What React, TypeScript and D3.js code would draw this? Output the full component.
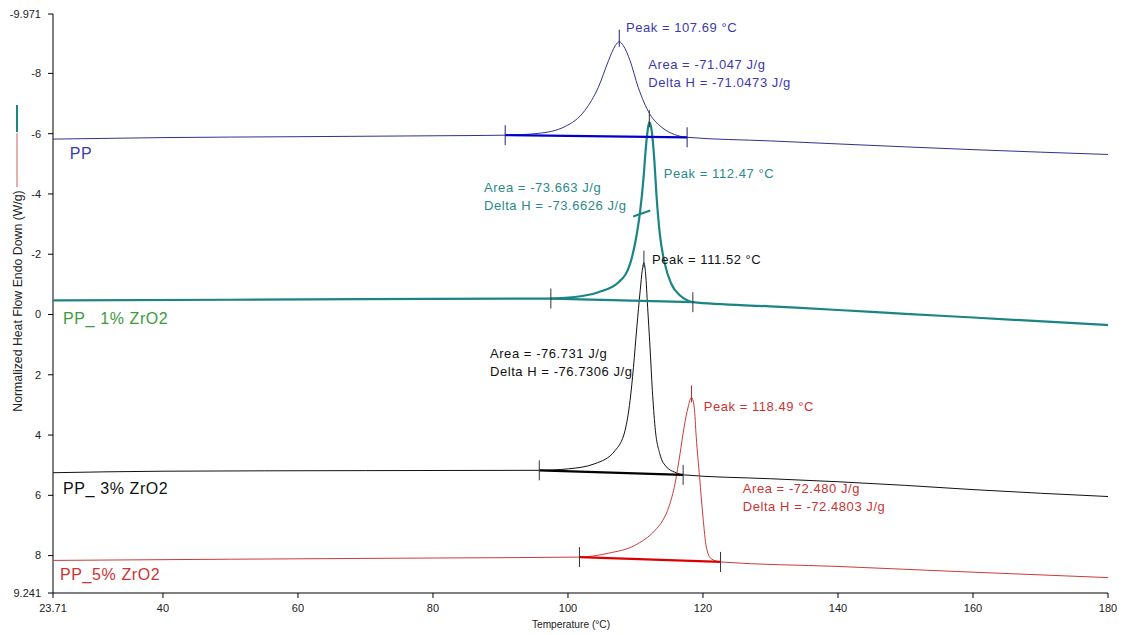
import React, { useEffect, useRef } from "react";
import * as d3 from "d3";

// DSC cooling curves (temperature °C, heat flow W/g)
const ppTemps = [23.71, 40, 60, 80, 90.7, 95.6, 99.6, 102.5, 104.5, 106.0, 107.0, 107.6, 108.2, 109.2, 110.4, 112.1, 113.9, 115.8, 117.65, 130, 140, 160, 180];
const ppValues = [-5.82, -5.87, -5.9, -5.93, -5.95, -6.01, -6.24, -6.77, -7.54, -8.42, -8.92, -9.05, -8.92, -8.42, -7.54, -6.66, -6.21, -5.97, -5.88, -5.76, -5.66, -5.47, -5.31];

const pp1Temps = [23.71, 50, 80, 97.46, 100.6, 104.5, 107.5, 109.2, 110.2, 110.7, 111.2, 111.5, 111.8, 112.05, 112.4, 112.8, 113.1, 113.6, 114.35, 115.3, 116.6, 117.8, 118.5, 130, 140, 150, 160, 180];
const pp1Values = [-0.47, -0.49, -0.52, -0.53, -0.57, -0.74, -1.07, -1.68, -2.68, -3.45, -4.55, -5.44, -6.1, -6.38, -6.1, -5.1, -4.0, -2.68, -1.68, -1.02, -0.63, -0.46, -0.41, -0.27, -0.15, -0.02, 0.1, 0.35];

const pp3Temps = [23.71, 40, 70, 95.75, 100.1, 104.0, 107.0, 108.45, 109.2, 109.7, 110.2, 110.7, 111.0, 111.25, 111.5, 111.8, 112.15, 112.5, 112.9, 113.6, 114.6, 115.8, 117.06, 130, 140, 150, 160, 180];
const pp3Values = [5.25, 5.2, 5.18, 5.17, 5.12, 4.95, 4.51, 3.85, 2.85, 1.75, 0.42, -0.8, -1.46, -1.72, -1.35, -0.24, 1.08, 2.52, 3.74, 4.62, 5.06, 5.23, 5.32, 5.45, 5.55, 5.67, 5.81, 6.04];

const pp5Temps = [23.71, 50, 80, 101.7, 106.0, 109.9, 112.9, 114.0, 115.0, 115.85, 116.6, 117.2, 117.8, 118.3, 118.7, 119.0, 119.5, 120.0, 120.5, 121.2, 122.6, 140, 160, 180];
const pp5Values = [8.16, 8.12, 8.08, 8.05, 7.92, 7.66, 7.16, 6.85, 6.35, 5.62, 4.62, 3.74, 3.07, 2.75, 3.07, 4.07, 5.4, 6.72, 7.72, 8.1, 8.21, 8.36, 8.55, 8.73];

// integration limits and their baseline values
const limitTemps = [[90.7, 117.65], [97.46, 118.5], [95.75, 117.06], [101.7, 122.6]];
const limitValues = [[-5.95, -5.88], [-0.53, -0.41], [5.17, 5.32], [8.05, 8.21]];

// peak marker positions
const peakTemps = [107.6, 112.05, 111.25, 118.3];
const peakValues = [-9.05, -6.38, -1.72, 2.75];

const seriesNames = ["PP", "PP_ 1% ZrO2", "PP_ 3% ZrO2", "PP_5% ZrO2"];
const nameAnchors = [[26.2, -5.35], [25.2, 0.12], [25.2, 5.76], [24.75, 8.64]];

const peakLabels = ["Peak = 107.69 °C", "Peak = 112.47 °C", "Peak = 111.52 °C", "Peak = 118.49 °C"];
const peakAnchors = [[108.6, -9.54], [114.2, -4.69], [112.45, -1.84], [120.1, 3.04]];

const areaLabels = ["Area = -71.047 J/g", "Area = -73.663 J/g", "Area = -76.731 J/g", "Area = -72.480 J/g"];
const deltaLabels = ["Delta H = -71.0473 J/g", "Delta H = -73.6626 J/g", "Delta H = -76.7306 J/g", "Delta H = -72.4803 J/g"];
const areaAnchors = [[111.9, -8.31], [87.56, -4.23], [88.45, 1.28], [125.9, 5.76]];

const xTicks = [23.71, 40, 60, 80, 100, 120, 140, 160, 180];
const xTickLabels = ["23.71", "40", "60", "80", "100", "120", "140", "160", "180"];
const yTicks = [-9.971, -8, -6, -4, -2, 0, 2, 4, 6, 8, 9.241];
const yTickLabels = ["-9.971", "-8", "-6", "-4", "-2", "0", "2", "4", "6", "8", "9.241"];

const lineColors = ["#30308f", "#1b8484", "#111111", "#cc3a3a"];
const baseColors = ["#0000cc", "#1b8484", "#000000", "#dd0000"];
const textColors = ["#3a3ab0", "#2a8a8a", "#111111", "#cc3333"];
const nameColors = ["#3a3ab0", "#3d9a3d", "#111111", "#cc3333"];
const lineWidths = [1, 2.2, 1, 1];

const App = () => {
  const chart = useRef<SVGSVGElement>(null);

  useEffect(() => {
    const width = 1122;
    const height = 635;
    const font = "Liberation Sans, Arial, sans-serif";

    const svg = d3.select(chart.current)
      .attr("width", width)
      .attr("height", height)
      .style("background-color", "white");
    svg.selectAll("*").remove();

    const x = d3.scaleLinear().domain([23.71, 180]).range([53, 1108]);
    const y = d3.scaleLinear().domain([-9.971, 9.241]).range([14, 593]);

    // axes
    const g = svg.append("g");
    g.append("line").attr("x1", x(23.71)).attr("x2", x(23.71)).attr("y1", y(-9.971)).attr("y2", y(9.241)).attr("stroke", "#000");
    g.append("line").attr("x1", x(23.71)).attr("x2", x(180)).attr("y1", y(9.241)).attr("y2", y(9.241)).attr("stroke", "#000");

    yTicks.forEach((t, i) => {
      g.append("line").attr("x1", x(23.71) - 5).attr("x2", x(23.71)).attr("y1", y(t)).attr("y2", y(t)).attr("stroke", "#000");
      g.append("text").attr("x", x(23.71) - 12).attr("y", y(t)).attr("dy", "0.35em")
        .attr("text-anchor", "end").attr("font-family", font).attr("font-size", 11).attr("fill", "#222")
        .text(yTickLabels[i]);
    });
    xTicks.forEach((t, i) => {
      g.append("line").attr("x1", x(t)).attr("x2", x(t)).attr("y1", y(9.241)).attr("y2", y(9.241) + 5).attr("stroke", "#000");
      g.append("text").attr("x", x(t)).attr("y", y(9.241) + 15).attr("dy", "0.35em")
        .attr("text-anchor", "middle").attr("font-family", font).attr("font-size", 11).attr("fill", "#222")
        .text(xTickLabels[i]);
    });

    g.append("text").attr("x", 571).attr("y", 624).attr("dy", "0.35em").attr("text-anchor", "middle")
      .attr("font-family", font).attr("font-size", 10.2).attr("fill", "#222").text("Temperature (°C)");

    g.append("text").attr("transform", "translate(18,301) rotate(-90)").attr("dy", "0.35em")
      .attr("text-anchor", "middle").attr("font-family", font).attr("font-size", 12.3).attr("fill", "#222")
      .text("Normalized Heat Flow Endo Down (W/g)");
    // colour keys beside the y label
    g.append("line").attr("x1", 17).attr("x2", 17).attr("y1", 105).attr("y2", 132).attr("stroke", lineColors[1]).attr("stroke-width", 2);
    g.append("line").attr("x1", 17).attr("x2", 17).attr("y1", 133).attr("y2", 187).attr("stroke", "#c86060").attr("stroke-width", 1);

    const line = d3.line<[number, number]>()
      .x(d => x(d[0]))
      .y(d => y(d[1]))
      .curve(d3.curveMonotoneX);

    const series = [
      d3.zip(ppTemps, ppValues),
      d3.zip(pp1Temps, pp1Values),
      d3.zip(pp3Temps, pp3Values),
      d3.zip(pp5Temps, pp5Values),
    ] as [number, number][][];

    series.forEach((s, i) => {
      svg.append("path")
        .datum(s)
        .attr("fill", "none")
        .attr("stroke", lineColors[i])
        .attr("stroke-width", lineWidths[i])
        .attr("stroke-linejoin", "round")
        .attr("d", line);
    });

    const label = (sel: any, size: number, spacing: number, color: string) =>
      sel.attr("dy", "0.35em").attr("font-family", font).attr("font-size", size)
        .attr("letter-spacing", spacing).attr("fill", color);

    series.forEach((s, i) => {
      // integration baseline
      const [t0, t1] = limitTemps[i];
      const [v0, v1] = limitValues[i];
      svg.append("line")
        .attr("x1", x(t0)).attr("y1", y(v0)).attr("x2", x(t1)).attr("y2", y(v1))
        .attr("stroke", baseColors[i]).attr("stroke-width", 2.2);
      const tickCol = i === 0 ? "#20207a" : "#333";
      [0, 1].forEach(k => {
        svg.append("line")
          .attr("x1", x(limitTemps[i][k])).attr("x2", x(limitTemps[i][k]))
          .attr("y1", y(limitValues[i][k]) - 10).attr("y2", y(limitValues[i][k]) + 10)
          .attr("stroke", tickCol).attr("stroke-width", 1);
      });
      // peak marker
      svg.append("line")
        .attr("x1", x(peakTemps[i])).attr("x2", x(peakTemps[i]))
        .attr("y1", y(peakValues[i]) - 12).attr("y2", y(peakValues[i]) + 5)
        .attr("stroke", i === 0 ? "#20207a" : i === 3 ? "#b03030" : "#333").attr("stroke-width", 1);

      label(svg.append("text").attr("x", x(nameAnchors[i][0])).attr("y", y(nameAnchors[i][1])), 16, 0.6, nameColors[i])
        .text(seriesNames[i]);

      label(svg.append("text").attr("x", x(peakAnchors[i][0])).attr("y", y(peakAnchors[i][1])), 13, 0.55, textColors[i])
        .text(peakLabels[i]);

      label(svg.append("text").attr("x", x(areaAnchors[i][0])).attr("y", y(areaAnchors[i][1])), 13, 0.55, textColors[i])
        .text(areaLabels[i]);
      label(svg.append("text").attr("x", x(areaAnchors[i][0])).attr("y", y(areaAnchors[i][1]) + 18), 13, 0.55, textColors[i])
        .text(deltaLabels[i]);
    });

    // small slanted label pointer on the 1% curve
    svg.append("line")
      .attr("x1", x(110.85) - 8).attr("y1", y(-3.35) + 3)
      .attr("x2", x(110.85) + 9).attr("y2", y(-3.35) - 3)
      .attr("stroke", lineColors[1]).attr("stroke-width", 2);
  }, []);

  return (
    <div style={{ position: "absolute", left: 0, top: 0 }}>
      <svg ref={chart} style={{ display: "block" }} />
    </div>
  );
};

export default App;
